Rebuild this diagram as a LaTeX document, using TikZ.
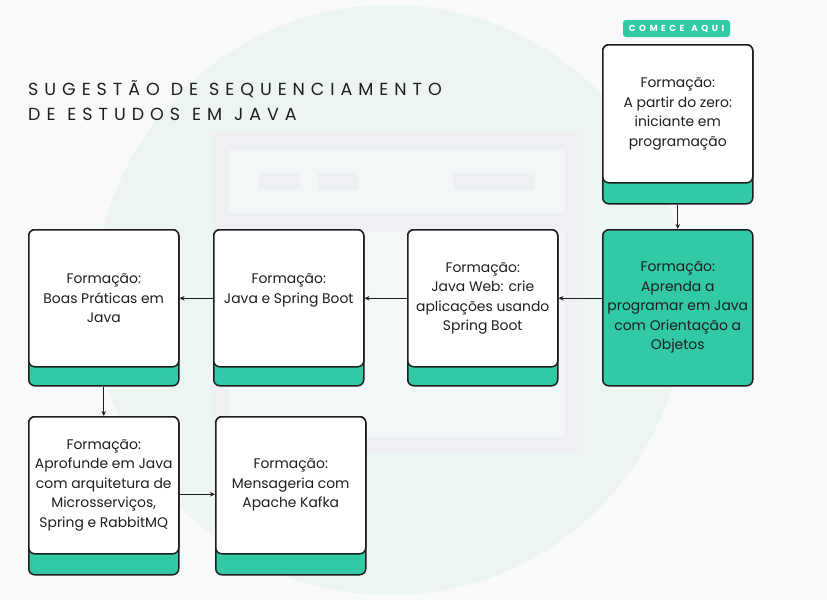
\documentclass[tikz,border=0pt]{standalone}
\usepackage{fontspec}
\setmainfont{Poppins}
\newfontfamily\titlefont[LetterSpace=34]{Poppins}
\newfontfamily\badgefont[LetterSpace=40]{Poppins}
\newcommand\wsp[1][11pt]{\rule{#1}{0pt}}
\newcommand\bwsp{\rule{7pt}{0pt}}
\usetikzlibrary{arrows.meta}
\definecolor{bg}{HTML}{F7F9FA}
\definecolor{circ}{HTML}{ECF5F2}
\definecolor{framec}{HTML}{EEF0F3}
\definecolor{panel}{HTML}{F3F7F7}
\definecolor{teal}{HTML}{31C9A6}
\definecolor{ink}{HTML}{1E1E1E}
\begin{document}
\begin{tikzpicture}[x=1pt,y=-1pt,
  basebox/.style={draw=ink, line width=1.5pt, fill=teal, rounded corners=6pt,
    anchor=north west, minimum width=150pt, minimum height=#1, inner sep=0pt},
  card/.style={draw=ink, line width=1.5pt, fill=white, rounded corners=6pt,
    anchor=north west, minimum width=150pt, minimum height=#1, inner sep=0pt,
    align=center, text=ink, font=\fontsize{13.9}{19.5}\selectfont},
  arr/.style={draw=ink, line width=1.4pt, -{Stealth[length=5pt,width=4.5pt]}},
  titletext/.style={anchor=west, text=ink, inner sep=0pt, font=\titlefont\fontsize{17.5}{18}\selectfont}
]
\useasboundingbox (0,0) rectangle (827,600);
\clip (0,0) rectangle (827,600);
% background
\fill[bg] (0,0) rectangle (827,600);
\fill[circ] (390,300) circle (295);
\fill[framec] (212,132) rectangle (582,453);
\fill[panel] (229,150) rectangle (565,213);
\fill[panel] (229,232) rectangle (565,437);
\fill[framec] (259,173) rectangle (300,190);
\fill[framec] (318,173) rectangle (358,190);
\fill[framec] (453,173) rectangle (535,190);

% title
\node[titletext] (t1) at (28,89) {SUGESTÃO\wsp DE\wsp SEQUENCIAMENTO};
\node[titletext] (t2) at (28,114) {DE\wsp[12pt]ESTUDOS\wsp[12pt]EM\wsp[12pt]JAVA};

% badge
\node[fill=teal, rounded corners=3pt, text=white, inner sep=0pt,
  minimum width=107pt, minimum height=17pt,
  font=\badgefont\bfseries\fontsize{8.8}{9}\selectfont] (badge) at (676.5,28.5) {COMECE\bwsp AQUI};

% box 1
\node[basebox=159pt] (b1base) at (602,44) {};
\node[card=138pt] (b1) at (602,44) {Formação:\\A partir do zero:\\iniciante em\\programação};

% box 2 (all green)
\node[card=156pt, fill=teal] (b2) at (602,229) {Formação:\\Aprenda a\\programar em Java\\com Orientação a\\Objetos};

% box 3
\node[basebox=156pt] (b3base) at (407,229) {};
\node[card=137pt] (b3) at (407,229) {Formação:\\Java Web: crie\\aplicações usando\\Spring Boot};

% box 4
\node[basebox=156pt] (b4base) at (213,229) {};
\node[card=137pt, text depth=19.5pt] (b4) at (213,229) {Formação:\\Java e Spring Boot};

% box 5
\node[basebox=156pt] (b5base) at (28,229) {};
\node[card=137pt] (b5) at (28,229) {Formação:\\Boas Práticas em\\Java};

% box 6
\node[basebox=158pt] (b6base) at (28,416) {};
\node[card=137pt] (b6) at (28,416) {Formação:\\Aprofunde em Java\\com arquitetura de\\Microsserviços,\\Spring e RabbitMQ};

% box 7
\node[basebox=158pt] (b7base) at (215,416) {};
\node[card=137pt] (b7) at (215,416) {Formação:\\Mensageria com\\Apache Kafka};

% connectors
\draw[arr] (b1base.south) -- (b2.north);
\draw[arr] (b2.west |- b3.east) -- (b3.east);
\draw[arr] (b3.west) -- (b4.east);
\draw[arr] (b4.west) -- (b5.east);
\draw[arr] (b5base.south) -- (b6.north);
\draw[arr] ([yshift=-9pt]b6.east) -- ([yshift=-9pt]b7.west);
\end{tikzpicture}
\end{document}
